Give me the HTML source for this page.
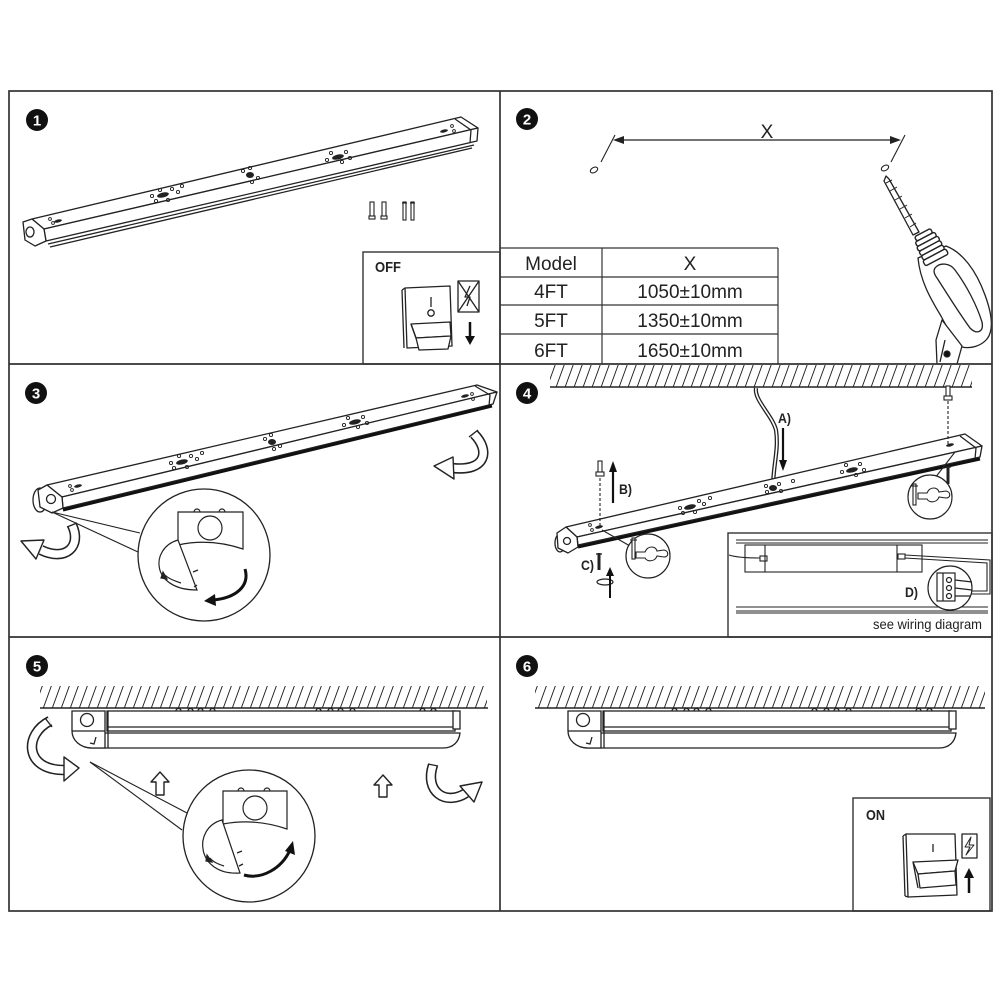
<!DOCTYPE html>
<html><head><meta charset="utf-8"><style>
html,body{margin:0;padding:0;background:#fff;}
svg{display:block;}
text{font-family:"Liberation Sans",Arial,sans-serif;}
</style></head><body>
<svg width="1000" height="1000" viewBox="0 0 1000 1000" xmlns="http://www.w3.org/2000/svg">
<defs>
<pattern id="hatch" patternUnits="userSpaceOnUse" width="9" height="40" patternTransform="skewX(-20)">
<line x1="4" y1="0" x2="4" y2="40" stroke="#222" stroke-width="1"/>
</pattern>
</defs>
<rect width="1000" height="1000" fill="#fff"/>

<!-- ============ PANEL 1 ============ -->
<g fill="#fff" stroke="#222" stroke-width="1.3" stroke-linejoin="round">
  <polygon points="32,219 461,117 478,128 44,229"/>
  <polygon points="44,229 478,128 477,141 46,241"/>
  <line x1="48" y1="244" x2="474" y2="145"/>
  <line x1="50" y1="247" x2="472" y2="148"/>
  <polyline points="455,119 471,130 470,143" fill="none"/>
  <polygon points="23,222 32,219 44,229 46,241 35,246 25,240"/>
  <ellipse cx="30" cy="232" rx="4" ry="5"/>
</g>
<g fill="#222">
  <ellipse cx="163" cy="195" rx="6" ry="2.5" transform="rotate(-13 163 195)"/>
  <ellipse cx="250" cy="175" rx="4" ry="3"/>
  <ellipse cx="338" cy="157" rx="6" ry="2.5" transform="rotate(-13 338 157)"/>
  <ellipse cx="58" cy="221" rx="4" ry="1.5" transform="rotate(-13 58 221)"/>
  <ellipse cx="444" cy="131" rx="4" ry="1.5" transform="rotate(-13 444 131)"/>
</g>
<g fill="none" stroke="#222" stroke-width="0.9">
  <circle cx="152" cy="196" r="1.6"/><circle cx="156" cy="201" r="1.6"/><circle cx="172" cy="189" r="1.6"/><circle cx="178" cy="192" r="1.6"/><circle cx="168" cy="200" r="1.6"/><circle cx="160" cy="190" r="1.6"/><circle cx="182" cy="186" r="1.6"/>
  <circle cx="243" cy="171" r="1.6"/><circle cx="258" cy="178" r="1.6"/><circle cx="250" cy="168" r="1.6"/><circle cx="252" cy="182" r="1.6"/>
  <circle cx="327" cy="160" r="1.6"/><circle cx="331" cy="153" r="1.6"/><circle cx="346" cy="152" r="1.6"/><circle cx="350" cy="158" r="1.6"/><circle cx="342" cy="162" r="1.6"/>
  <circle cx="50" cy="219" r="1.4"/><circle cx="53" cy="223" r="1.4"/><circle cx="452" cy="126" r="1.4"/><circle cx="454" cy="131" r="1.4"/>
</g>
<!-- screws -->
<g fill="#fff" stroke="#222" stroke-width="1.1">
  <rect x="370" y="202" width="4" height="16"/><rect x="369" y="216" width="6" height="3"/>
  <rect x="382" y="202" width="4" height="16"/><rect x="381" y="216" width="6" height="3"/>
  <rect x="403" y="202" width="3" height="18"/><line x1="402" y1="203" x2="407" y2="203"/>
  <rect x="411" y="202" width="3" height="18"/><line x1="410" y1="203" x2="415" y2="203"/>
</g>
<!-- OFF box -->
<rect x="363" y="252" width="137" height="112" fill="#fff" stroke="#333" stroke-width="1.4"/>
<text x="375" y="272" font-size="15" font-weight="bold" textLength="26" lengthAdjust="spacingAndGlyphs" fill="#222">OFF</text>
<g fill="#fff" stroke="#222" stroke-width="1.3" stroke-linejoin="round">
  <path d="M405,288 L450,286 L452,346 L407,348 Z"/>
  <line x1="402" y1="290" x2="405" y2="288"/>
  <line x1="402" y1="290" x2="404" y2="348"/>
  <line x1="431" y1="297" x2="431" y2="307"/>
  <circle cx="431" cy="313" r="3.2"/>
  <path d="M411,324 L450,322 L451,336 L416,338 Z"/>
  <path d="M416,338 L451,336 L448,349 L419,350 Z"/>
  <line x1="411" y1="324" x2="416" y2="338"/>
  <rect x="458" y="281" width="21" height="31"/>
  <line x1="458" y1="281" x2="479" y2="312"/><line x1="479" y1="281" x2="458" y2="312"/>
  <path d="M470,286 L465,297 L470,297 L467,306" fill="none"/>
</g>
<line x1="470" y1="322" x2="470" y2="338" stroke="#111" stroke-width="2.5"/>
<path d="M465,336 L475,336 L470,345 Z" fill="#111"/>

<!-- ============ PANEL 2 ============ -->
<line x1="616" y1="140" x2="898" y2="140" stroke="#222" stroke-width="1.3"/>
<path d="M613,140 L624,136 L624,144 Z" fill="#222"/>
<path d="M901,140 L890,136 L890,144 Z" fill="#222"/>
<line x1="615" y1="135" x2="601" y2="162" stroke="#222" stroke-width="1.1"/>
<line x1="905" y1="135" x2="891" y2="162" stroke="#222" stroke-width="1.1"/>
<ellipse cx="594" cy="170" rx="4" ry="2.5" transform="rotate(-30 594 170)" fill="none" stroke="#222" stroke-width="1.1"/>
<ellipse cx="885" cy="168" rx="4" ry="2.5" transform="rotate(-30 885 168)" fill="none" stroke="#222" stroke-width="1.1"/>
<text x="767" y="138" font-size="19" text-anchor="middle" fill="#222">X</text>
<!-- drill -->
<g fill="#fff" stroke="#222" stroke-width="1.3" stroke-linejoin="round">
  <path d="M886,176 L889,179 L919,232 L913,235 L884,181 Z"/>
  <path d="M886,183 L892,180 M890,191 L897,187 M895,200 L902,196 M900,209 L907,205 M905,218 L912,214 M910,227 L916,223" fill="none" stroke-width="1"/>
  <path d="M918,258 L946,246 C962,252 976,270 985,295 C992,314 994,330 987,339 C981,346 971,349 962,347 C955,340 948,330 941,316 C930,298 920,280 918,258 Z"/>
  <path d="M935,268 C940,262 950,263 955,270 C967,286 977,306 982,322 C984,332 977,335 970,328 C959,313 946,292 937,278 C934,274 933,271 935,268 Z"/>
  <path d="M942,320 L962,346 L957,364 L937,364 L936,340 Z"/>
  <circle cx="947" cy="354" r="3" fill="#111"/>
  <line x1="945" y1="340" x2="940" y2="362"/>
</g>
<g transform="translate(929,245) rotate(-28)" fill="#fff" stroke="#222" stroke-width="1.4">
  <rect x="-9" y="-14" width="18" height="5" rx="2"/>
  <rect x="-11" y="-9" width="22" height="5" rx="2"/>
  <rect x="-12" y="-4" width="24" height="5" rx="2"/>
  <rect x="-12" y="1" width="24" height="5" rx="2"/>
  <rect x="-12" y="6" width="24" height="5" rx="2"/>
  <rect x="-13" y="11" width="26" height="6" rx="2"/>
</g>
<!-- table -->
<g stroke="#333" stroke-width="1.2" fill="none">
  <line x1="500" y1="248" x2="778" y2="248"/>
  <line x1="500" y1="277" x2="778" y2="277"/>
  <line x1="500" y1="305" x2="778" y2="305"/>
  <line x1="500" y1="334" x2="778" y2="334"/>
  <line x1="602" y1="248" x2="602" y2="364"/>
  <line x1="778" y1="248" x2="778" y2="364"/>
</g>
<g font-size="19" fill="#222" text-anchor="middle">
  <text x="551" y="270">Model</text><text x="690" y="270">X</text>
  <text x="551" y="298">4FT</text><text x="690" y="298">1050±10mm</text>
  <text x="551" y="327">5FT</text><text x="690" y="327">1350±10mm</text>
  <text x="551" y="357">6FT</text><text x="690" y="357">1650±10mm</text>
</g>

<!-- ============ PANEL 3 ============ -->
<g fill="#fff" stroke="#222" stroke-width="1.3" stroke-linejoin="round">
  <polygon points="47,485 477,385 497,392 62,497"/>
  <polygon points="62,497 497,392 493,404 63,508"/>
  <polyline points="475,386 490,395 489,406" fill="none"/>
  <ellipse cx="40" cy="500" rx="7" ry="12"/>
  <polygon points="38,490 47,485 62,497 63,508 52,513 40,507"/>
  <circle cx="51" cy="499" r="4.5"/>
</g>
<line x1="63" y1="510" x2="492" y2="406" stroke="#111" stroke-width="3"/>
<g fill="#222">
  <ellipse cx="182" cy="462" rx="6" ry="2.5" transform="rotate(-13 182 462)"/>
  <ellipse cx="272" cy="442" rx="4" ry="3"/>
  <ellipse cx="355" cy="422" rx="6" ry="2.5" transform="rotate(-13 355 422)"/>
  <ellipse cx="78" cy="486" rx="4" ry="1.5" transform="rotate(-13 78 486)"/>
  <ellipse cx="465" cy="396" rx="4" ry="1.5" transform="rotate(-13 465 396)"/>
</g>
<g fill="none" stroke="#222" stroke-width="0.9">
  <circle cx="171" cy="463" r="1.6"/><circle cx="174" cy="468" r="1.6"/><circle cx="191" cy="456" r="1.6"/><circle cx="197" cy="459" r="1.6"/><circle cx="187" cy="467" r="1.6"/><circle cx="179" cy="456" r="1.6"/><circle cx="202" cy="453" r="1.6"/>
  <circle cx="265" cy="439" r="1.6"/><circle cx="280" cy="446" r="1.6"/><circle cx="271" cy="435" r="1.6"/><circle cx="274" cy="449" r="1.6"/>
  <circle cx="344" cy="425" r="1.6"/><circle cx="348" cy="418" r="1.6"/><circle cx="363" cy="417" r="1.6"/><circle cx="367" cy="423" r="1.6"/><circle cx="358" cy="427" r="1.6"/>
  <circle cx="70" cy="486" r="1.4"/><circle cx="72" cy="490" r="1.4"/><circle cx="472" cy="394" r="1.4"/><circle cx="473" cy="399" r="1.4"/>
</g>
<!-- hollow arrows panel 3 -->
<g fill="none" stroke-linecap="butt">
  <path d="M474,434 C490,450 487,472 452,468" stroke="#222" stroke-width="10.5"/>
  <path d="M474,434 C490,450 487,472 452,468" stroke="#fff" stroke-width="7.4"/>
  <path d="M72,525 C82,546 66,562 41,550" stroke="#222" stroke-width="10.5"/>
  <path d="M72,525 C82,546 66,562 41,550" stroke="#fff" stroke-width="7.4"/>
</g>
<g fill="#fff" stroke="#222" stroke-width="1.4" stroke-linejoin="round">
  <polygon points="453,457 434,466 454,479"/>
  <line x1="469" y1="437" x2="478" y2="430"/>
  <polygon points="44,540 21,541 36,559"/>
  <line x1="67" y1="527" x2="77" y2="523"/>
</g>
<!-- magnifier 3 -->
<g fill="none" stroke="#222" stroke-width="1.1">
  <line x1="52" y1="512" x2="140" y2="533"/>
  <line x1="52" y1="512" x2="138" y2="552"/>
</g>
<circle cx="204" cy="555" r="66" fill="#fff" stroke="#222" stroke-width="1.3"/>
<g fill="#fff" stroke="#222" stroke-width="1.2">
  <path d="M194,512 A3,3 0 0 1 200,512 M219,512 A3,3 0 0 1 225,512"/>
  <path d="M178,512 H243 V549 Q210,538 178,545 Z"/>
  <circle cx="210" cy="528" r="12"/>
  <path d="M178,540 C150,548 150,590 197,590 Z"/>
  <path d="M193,572 L198,570 M194,587 L197,585" stroke-width="1.3"/>
  <path d="M181,583 C175,581 169,579 165,575" fill="none"/>
  <path d="M163,572 L167,579 L161,578 Z" fill="#222"/>
</g>
<path d="M245,569 C250,586 236,598 213,600" fill="none" stroke="#111" stroke-width="3"/>
<path d="M215,594 L204,601 L216,606 Z" fill="#111"/>

<!-- ============ PANEL 4 ============ -->
<rect x="550" y="365" width="422" height="22" fill="url(#hatch)"/>
<line x1="550" y1="387" x2="972" y2="387" stroke="#222" stroke-width="1.4"/>
<!-- cable -->
<path d="M756,388 C754,400 772,415 776,430 C779,450 773,465 773,488" fill="none" stroke="#222" stroke-width="4.2"/>
<path d="M756,388 C754,400 772,415 776,430 C779,450 773,465 773,488" fill="none" stroke="#fff" stroke-width="1.6"/>
<g fill="#fff" stroke="#222" stroke-width="1.3" stroke-linejoin="round">
  <polygon points="566,527 965,434 982,446 577,537"/>
  <polygon points="577,537 982,446 980,457 578,545"/>
  <polyline points="960,436 976,448 975,459" fill="none"/>
  <ellipse cx="560" cy="543" rx="5" ry="9"/>
  <polygon points="557,533 566,527 577,537 578,547 568,553 558,548"/>
  <circle cx="567" cy="541" r="3.5"/>
</g>
<line x1="578" y1="547" x2="980" y2="459" stroke="#111" stroke-width="3"/>
<g fill="#222">
  <ellipse cx="690" cy="507" rx="6" ry="2.5" transform="rotate(-13 690 507)"/>
  <ellipse cx="773" cy="488" rx="4" ry="3"/>
  <ellipse cx="852" cy="470" rx="6" ry="2.5" transform="rotate(-13 852 470)"/>
  <ellipse cx="599" cy="527" rx="4" ry="1.5" transform="rotate(-13 599 527)"/>
  <ellipse cx="950" cy="445" rx="4" ry="1.5" transform="rotate(-13 950 445)"/>
</g>
<g fill="none" stroke="#222" stroke-width="0.9">
  <circle cx="680" cy="508" r="1.6"/><circle cx="683" cy="513" r="1.6"/><circle cx="699" cy="501" r="1.6"/><circle cx="704" cy="504" r="1.6"/><circle cx="695" cy="512" r="1.6"/><circle cx="710" cy="498" r="1.6"/>
  <circle cx="766" cy="486" r="1.6"/><circle cx="781" cy="491" r="1.6"/><circle cx="767" cy="492" r="1.6"/><circle cx="779" cy="484" r="1.6"/><circle cx="793" cy="481" r="1.6"/>
  <circle cx="842" cy="472" r="1.6"/><circle cx="846" cy="465" r="1.6"/><circle cx="860" cy="464" r="1.6"/><circle cx="864" cy="470" r="1.6"/><circle cx="856" cy="475" r="1.6"/>
  <circle cx="590" cy="525" r="1.4"/><circle cx="592" cy="530" r="1.4"/>
</g>
<!-- A) -->
<text x="778" y="423" font-size="14" font-weight="bold" textLength="13" lengthAdjust="spacingAndGlyphs" fill="#222">A)</text>
<line x1="783" y1="428" x2="783" y2="462" stroke="#111" stroke-width="2.2"/>
<path d="M779,460 L787,460 L783,471 Z" fill="#111"/>
<!-- B) left -->
<g fill="#fff" stroke="#222" stroke-width="1.1">
  <rect x="598" y="461" width="4" height="13"/><rect x="596" y="472" width="8" height="4"/>
</g>
<line x1="600" y1="478" x2="600" y2="526" stroke="#222" stroke-width="1.1" stroke-dasharray="3,2"/>
<line x1="613" y1="503" x2="613" y2="470" stroke="#111" stroke-width="2.2"/>
<path d="M609,472 L617,472 L613,461 Z" fill="#111"/>
<text x="619" y="494" font-size="14" font-weight="bold" textLength="13" lengthAdjust="spacingAndGlyphs" fill="#222">B)</text>
<!-- C) -->
<text x="581" y="570" font-size="14" font-weight="bold" textLength="13" lengthAdjust="spacingAndGlyphs" fill="#222">C)</text>
<line x1="599" y1="553" x2="599" y2="570" stroke="#222" stroke-width="3"/>
<line x1="596" y1="554" x2="602" y2="554" stroke="#222" stroke-width="1.3"/>
<ellipse cx="605" cy="582" rx="8" ry="3" fill="none" stroke="#222" stroke-width="1.2"/>
<line x1="610" y1="598" x2="610" y2="574" stroke="#111" stroke-width="2"/>
<path d="M606,576 L614,576 L610,567 Z" fill="#111"/>
<!-- left magnifier -->
<line x1="602" y1="530" x2="630" y2="546" stroke="#222" stroke-width="1.1"/>
<circle cx="648" cy="556" r="22" fill="#fff" stroke="#222" stroke-width="1.2"/>
<g fill="#fff" stroke="#222" stroke-width="1.1">
  <path d="M636,552 L645,552 C648,545 656,546 657,551 L664,550 C669,551 669,557 664,557 L657,556 C655,562 647,562 645,558 L636,558 Z"/>
  <rect x="632" y="538" width="3" height="21"/>
  <line x1="630" y1="540" x2="637" y2="540"/>
</g>
<!-- right anchor + magnifier -->
<g fill="#fff" stroke="#222" stroke-width="1.1">
  <rect x="946" y="386" width="4" height="12"/><rect x="944" y="396" width="8" height="4"/>
</g>
<line x1="948" y1="401" x2="948" y2="446" stroke="#222" stroke-width="1.1" stroke-dasharray="3,2"/>
<line x1="948" y1="466" x2="948" y2="484" stroke="#222" stroke-width="3"/>
<line x1="945" y1="467" x2="951" y2="467" stroke="#222" stroke-width="1.3"/>
<line x1="935" y1="478" x2="955" y2="452" stroke="#222" stroke-width="1.1"/>
<circle cx="930" cy="497" r="22" fill="#fff" stroke="#222" stroke-width="1.2"/>
<g fill="#fff" stroke="#222" stroke-width="1.1">
  <path d="M918,493 L927,493 C930,486 938,487 939,492 L946,491 C951,492 951,498 946,498 L939,497 C937,503 929,503 927,499 L918,499 Z"/>
  <rect x="913" y="484" width="3" height="21"/>
  <line x1="911" y1="486" x2="918" y2="486"/>
</g>
<!-- wiring inset -->
<rect x="728" y="533" width="264" height="104" fill="#fff" stroke="#333" stroke-width="1.4"/>
<g stroke="#222" stroke-width="1.1" fill="none">
  <line x1="736" y1="540" x2="988" y2="540"/>
  <line x1="736" y1="543" x2="988" y2="543"/>
  <line x1="736" y1="607" x2="988" y2="607"/>
  <line x1="736" y1="611" x2="988" y2="611"/>
  <line x1="736" y1="613" x2="988" y2="613"/>
  <rect x="745" y="545" width="177" height="27" fill="#fff"/>
  <line x1="765" y1="545" x2="765" y2="572"/>
  <line x1="897" y1="545" x2="897" y2="572"/>
  <rect x="760" y="556" width="7" height="5"/>
  <rect x="898" y="554" width="7" height="5"/>
  <path d="M729,555 C735,557 745,558 760,558"/>
  <path d="M905,555 L990,560 L990,594 L970,594"/>
  <path d="M905,558 L987,563 L987,591 L970,591"/>
</g>
<circle cx="950" cy="588" r="22" fill="#fff" stroke="#222" stroke-width="1.2"/>
<g fill="#fff" stroke="#222" stroke-width="1.2">
  <rect x="937" y="573" width="18" height="28"/>
  <line x1="943" y1="573" x2="943" y2="601"/>
  <circle cx="949" cy="580" r="2.5"/><circle cx="949" cy="588" r="2.5"/><circle cx="949" cy="596" r="2.5"/>
  <path d="M955,580 L972,582 M955,588 L972,590 M955,596 L970,596" fill="none"/>
</g>
<text x="905" y="597" font-size="14" font-weight="bold" textLength="13" lengthAdjust="spacingAndGlyphs" fill="#222">D)</text>
<text x="873" y="629" font-size="14" textLength="109" lengthAdjust="spacingAndGlyphs" fill="#222">see wiring diagram</text>

<!-- ============ PANEL 5 ============ -->
<rect x="40" y="686" width="447" height="22" fill="url(#hatch)"/>
<line x1="40" y1="708" x2="488" y2="708" stroke="#222" stroke-width="1.4"/>
<g id="lamp5" fill="#fff" stroke="#222" stroke-width="1.3">
  <path d="M176,711 A2.5,2.5 0 0 1 181,711 M188,711 A2.5,2.5 0 0 1 193,711 M198,711 A2.5,2.5 0 0 1 203,711 M210,711 A2.5,2.5 0 0 1 215,711 M316,711 A2.5,2.5 0 0 1 321,711 M328,711 A2.5,2.5 0 0 1 333,711 M338,711 A2.5,2.5 0 0 1 343,711 M350,711 A2.5,2.5 0 0 1 355,711 M420,711 A2.5,2.5 0 0 1 425,711 M431,711 A2.5,2.5 0 0 1 436,711"/>
  <path d="M90,748 L443,748 C453,748 459,742 460,733 L105,733 Z"/>
  <rect x="107" y="711" width="348" height="20"/>
  <line x1="107" y1="727" x2="455" y2="727"/>
  <rect x="453" y="711" width="7" height="18"/>
  <path d="M72,711 L105,711 L105,748 L92,748 C80,748 72,740 72,731 Z"/>
  <line x1="72" y1="731" x2="105" y2="731"/>
  <line x1="108" y1="711" x2="108" y2="748"/>
  <circle cx="87" cy="720" r="6.5"/>
  <path d="M96,737 L94,744 L90,743" fill="none"/>
</g>
<!-- hollow arrows panel 5 -->
<g fill="none">
  <path d="M50,721 C24,734 24,770 64,770" stroke="#222" stroke-width="10.5"/>
  <path d="M50,721 C24,734 24,770 64,770" stroke="#fff" stroke-width="7.4"/>
  <path d="M433,765 C424,792 446,806 466,793" stroke="#222" stroke-width="10.5"/>
  <path d="M433,765 C424,792 446,806 466,793" stroke="#fff" stroke-width="7.4"/>
</g>
<g fill="#fff" stroke="#222" stroke-width="1.4" stroke-linejoin="round">
  <polygon points="64,757 79,768 64,781"/>
  <line x1="45" y1="718" x2="52" y2="727"/>
  <polygon points="460,786 482,782 474,802"/>
  <line x1="428" y1="764" x2="438" y2="766"/>
  <polygon points="160,772 151,782 156,782 156,795 164,795 164,782 169,782"/>
  <polygon points="383,775 374,785 379,785 379,797 387,797 387,785 392,785"/>
</g>
<!-- magnifier 5 -->
<g fill="none" stroke="#222" stroke-width="1.1">
  <line x1="90" y1="762" x2="187" y2="813"/>
  <line x1="90" y1="762" x2="182" y2="830"/>
</g>
<circle cx="249" cy="836" r="66" fill="#fff" stroke="#222" stroke-width="1.3"/>
<g fill="#fff" stroke="#222" stroke-width="1.2">
  <path d="M238,791 A3,3 0 0 1 244,791 M264,791 A3,3 0 0 1 270,791"/>
  <path d="M223,791 H287 V829 Q255,818 223,824 Z"/>
  <circle cx="255" cy="808" r="12"/>
  <path d="M222,820 C192,828 196,876 240,873 Z"/>
  <path d="M237,853 L242,851 M239,866 L243,864" stroke-width="1.3"/>
  <path d="M224,866 C218,864 213,862 210,858" fill="none"/>
  <path d="M207,855 L212,862 L206,861 Z" fill="#222"/>
</g>
<path d="M244,875 C262,880 282,868 290,850" fill="none" stroke="#111" stroke-width="3"/>
<path d="M285,851 L293,841 L295,855 Z" fill="#111"/>

<!-- ============ PANEL 6 ============ -->
<rect x="535" y="686" width="450" height="22" fill="url(#hatch)"/>
<line x1="535" y1="708" x2="985" y2="708" stroke="#222" stroke-width="1.4"/>
<use href="#lamp5" transform="translate(496 0)"/>
<!-- ON box -->
<rect x="853" y="798" width="137" height="113" fill="#fff" stroke="#333" stroke-width="1.4"/>
<text x="866" y="820" font-size="15" font-weight="bold" textLength="19" lengthAdjust="spacingAndGlyphs" fill="#222">ON</text>
<g fill="#fff" stroke="#222" stroke-width="1.3" stroke-linejoin="round">
  <path d="M906,834 L955,834 L957,895 L908,897 Z"/>
  <line x1="903" y1="836" x2="906" y2="834"/>
  <line x1="903" y1="836" x2="905" y2="896"/>
  <line x1="905" y1="896" x2="908" y2="897"/>
  <line x1="933" y1="844" x2="933" y2="852"/>
  <path d="M913,862 L958,860 L955,871 L918,874 Z"/>
  <path d="M918,874 L955,871 L956,885 L920,888 Z"/>
  <line x1="913" y1="862" x2="918" y2="888"/>
  <rect x="962" y="834" width="15" height="24"/>
  <path d="M971,837 L965,847 L970,847 L966,855 L974,845 L969,845 Z" fill="none" stroke-width="1"/>
</g>
<line x1="969" y1="893" x2="969" y2="876" stroke="#111" stroke-width="2.5"/>
<path d="M964,878 L974,878 L969,868 Z" fill="#111"/>

<!-- ============ BORDERS ============ -->
<g fill="none" stroke="#333" stroke-width="1.7">
  <rect x="9" y="91" width="983" height="820"/>
  <line x1="500" y1="91" x2="500" y2="911"/>
  <line x1="9" y1="364" x2="992" y2="364"/>
  <line x1="9" y1="637" x2="992" y2="637"/>
</g>

<!-- number markers -->
<g font-size="15" font-weight="bold" fill="#fff" text-anchor="middle">
  <circle cx="37" cy="120" r="11" fill="#111"/><text x="37" y="125.5">1</text>
  <circle cx="527" cy="119" r="11" fill="#111"/><text x="527" y="124.5">2</text>
  <circle cx="36" cy="393" r="11" fill="#111"/><text x="36" y="398.5">3</text>
  <circle cx="527" cy="393" r="11" fill="#111"/><text x="527" y="398.5">4</text>
  <circle cx="37" cy="666" r="11" fill="#111"/><text x="37" y="671.5">5</text>
  <circle cx="527" cy="666" r="11" fill="#111"/><text x="527" y="671.5">6</text>
</g>
</svg>
</body></html>
